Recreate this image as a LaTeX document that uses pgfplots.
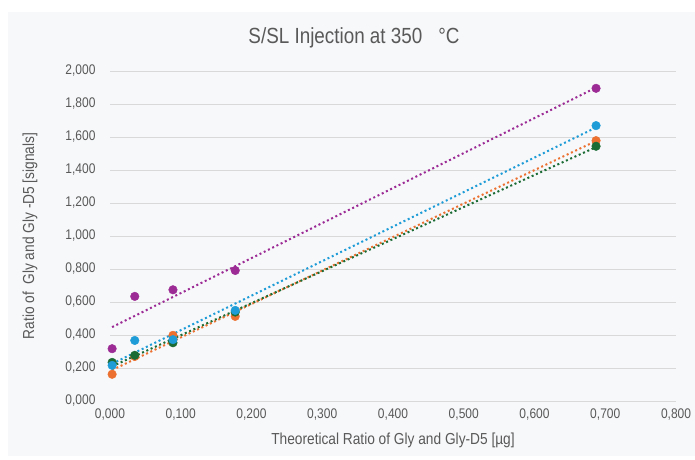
\documentclass[border=0pt]{standalone}
\usepackage{fontspec}
\setmainfont{Liberation Sans}[FakeStretch=0.86]
\usepackage{pgfplots}
\usepackage{pgfplotstable}
\pgfplotsset{compat=1.18}

\definecolor{bgc}{HTML}{F7F8FA}
\definecolor{txt}{HTML}{595959}
\definecolor{gridc}{HTML}{D9D9D9}
\definecolor{cpurple}{HTML}{9C2B95}
\definecolor{cblue}{HTML}{1E9CD7}
\definecolor{corange}{HTML}{EC7130}
\definecolor{cgreen}{HTML}{1B6B34}

% x = theoretical ratio, y = signal ratio
\pgfplotstableread{
x y
0.003 0.317
0.035 0.634
0.089 0.674
0.177 0.791
0.687 1.895
}\purpledata
\pgfplotstableread{
x y
0.003 0.162
0.035 0.270
0.089 0.398
0.177 0.513
0.687 1.578
}\orangedata
\pgfplotstableread{
x y
0.003 0.234
0.035 0.277
0.089 0.353
0.177 0.539
0.687 1.544
}\greendata
\pgfplotstableread{
x y
0.003 0.216
0.035 0.367
0.089 0.372
0.177 0.549
0.687 1.669
}\bluedata

\begin{document}
\begin{tikzpicture}[x=1bp,y=1bp]
\useasboundingbox (0,0) rectangle (695,-460);
\fill[bgc] (8,-12) rectangle (695,-456);
\node[text=txt, font=\fontsize{22}{26}\selectfont] at (354,-38) {S/SL Injection at 350\hspace{16bp}°C};
\begin{axis}[
  at={(110bp,-401bp)}, anchor=south west,
  scale only axis, width=566bp, height=330bp,
  xmin=0, xmax=0.8, ymin=0, ymax=2,
  xtick={0,0.1,0.2,0.3,0.4,0.5,0.6,0.7,0.8},
  ytick={0,0.2,0.4,0.6,0.8,1,1.2,1.4,1.6,1.8,2},
  ymajorgrids, grid style={gridc, line width=1bp},
  axis line style={draw=none}, major tick length=0pt,
  /pgf/number format/.cd, fixed, zerofill, precision=3, use comma, assume math mode=true,
  /pgfplots/.cd,
  tick label style={text=txt, font=\fontsize{14}{16}\selectfont},
  yticklabel style={xshift=-11bp},
  xticklabel style={yshift=-4bp},
  xlabel={Theoretical Ratio of Gly and Gly-D5 [µg]},
  ylabel={Ratio of\ \ Gly and Gly -D5 [signals]},
  label style={text=txt, font=\fontsize{16}{19}\selectfont},
  xlabel style={at={(axis description cs:0.5,-0.118)}, anchor=center},
  ylabel style={at={(axis description cs:-0.1413,0.5)}, anchor=center},
  clip=false,
]
\addplot[only marks, mark=*, mark size=4.3bp, cpurple] table[x=x,y=y] {\purpledata};
\addplot[only marks, mark=*, mark size=4.3bp, corange] table[x=x,y=y] {\orangedata};
\addplot[only marks, mark=*, mark size=4.3bp, cgreen] table[x=x,y=y] {\greendata};
\addplot[only marks, mark=*, mark size=4.3bp, cblue] table[x=x,y=y] {\bluedata};
\addplot[no marks, cpurple, line width=2bp, dash pattern=on 2bp off 2.7bp] table[x=x, y={create col/linear regression={y=y}}] {\purpledata};
\addplot[no marks, corange, line width=2bp, dash pattern=on 2bp off 2.7bp] table[x=x, y={create col/linear regression={y=y}}] {\orangedata};
\addplot[no marks, cgreen, line width=2bp, dash pattern=on 2bp off 2.7bp] table[x=x, y={create col/linear regression={y=y}}] {\greendata};
\addplot[no marks, cblue, line width=2bp, dash pattern=on 2bp off 2.7bp] table[x=x, y={create col/linear regression={y=y}}] {\bluedata};
\end{axis}
\end{tikzpicture}
\end{document}
